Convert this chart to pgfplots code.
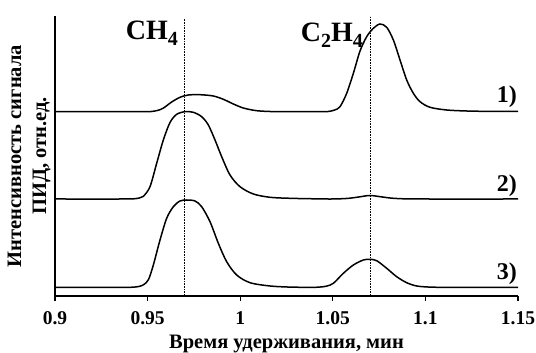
\documentclass[border=0pt]{standalone}
\usepackage{fontspec}
\setmainfont{Liberation Serif}
\usepackage{pgfplots}
\pgfplotsset{compat=1.18}
\newcommand\sub[1]{\raisebox{-6pt}{\fontsize{20}{20}\selectfont #1}}

\pgfplotstableread{
x y
0.900 184.3
0.940 184.3
0.948 184.3
0.952 184.5
0.9555 185.6
0.9585 187.9
0.963 194.0
0.9675 198.7
0.972 201.0
0.9783 201.3
0.9855 200.0
0.9909 196.7
0.9963 192.0
1.0017 188.0
1.0089 185.3
1.0179 184.4
1.030 184.3
1.042 184.3
1.0475 184.5
1.0510 186.0
1.0539 189.3
1.0575 202.7
1.0611 222.7
1.0647 245.0
1.0683 259.3
1.0719 267.7
1.0755 272.0
1.0791 268.7
1.0827 256.0
1.0863 236.0
1.0899 216.0
1.0935 202.7
1.0971 194.3
1.1025 188.7
1.1115 186.0
1.1223 185.0
1.135 184.6
1.150 184.5
}\curveA

\pgfplotstableread{
x y
0.900 97.0
0.936 97.0
0.942 97.1
0.9455 98.0
0.9477 99.6
0.9513 109.3
0.9549 132.7
0.9585 156.0
0.9621 173.5
0.9657 181.7
0.9702 184.3
0.9747 183.7
0.9792 179.3
0.9828 171.0
0.9864 156.0
0.9900 139.3
0.9945 121.0
0.9999 109.3
1.0071 102.0
1.0161 98.7
1.0269 97.7
1.040 97.2
1.050 97.0
1.058 97.6
1.064 99.0
1.070 100.5
1.076 99.2
1.082 97.8
1.090 97.1
1.100 97.0
1.150 97.0
}\curveB

\pgfplotstableread{
x y
0.900 8.7
0.936 8.7
0.942 8.8
0.9455 9.6
0.9480 11.5
0.9505 16.5
0.9531 31.0
0.9567 56.0
0.9603 77.7
0.9639 89.3
0.9675 95.0
0.9711 96.0
0.9756 95.0
0.9792 89.3
0.9837 74.3
0.9882 52.7
0.9927 34.3
0.9981 21.0
1.0053 13.3
1.0161 10.0
1.0269 8.9
1.036 8.7
1.042 8.8
1.0465 9.8
1.0503 12.7
1.0557 22.7
1.0611 31.0
1.0665 36.0
1.0701 36.7
1.0737 35.3
1.0791 27.7
1.0845 19.3
1.0899 13.3
1.0953 10.0
1.1025 8.9
1.112 8.7
1.150 8.7
}\curveC

\begin{document}
\begin{tikzpicture}
\path[use as bounding box] (-55pt,-57pt) rectangle (481pt,296pt);
\begin{axis}[
  scale only axis,
  width=463pt, height=280pt,
  xmin=0.9, xmax=1.15, ymin=0, ymax=280,
  axis x line*=bottom, axis y line*=left,
  axis line style={-, line width=1.1pt},
  xtick={0.9,0.95,1,1.05,1.1,1.15},
  xticklabels={0.9,0.95,1,1.05,1.1,1.15},
  ytick=\empty,
  xtick align=outside,
  major tick length=5pt,
  every tick/.style={line width=1.1pt, black},
  tick label style={font=\fontsize{19.5}{21}\selectfont\bfseries},
  xticklabel style={yshift=-7pt},
  xlabel={Время удерживания, мин},
  ylabel={Интенсивность сигнала\\ПИД, отн.ед.},
  label style={font=\fontsize{20.5}{25}\selectfont\bfseries},
  ylabel style={align=center, yshift=1pt},
  xlabel style={yshift=-3pt},
  clip=false,
]
\addplot[black, line width=1.5pt, smooth] table {\curveA};
\addplot[black, line width=1.5pt, smooth] table {\curveB};
\addplot[black, line width=1.5pt, smooth] table {\curveC};
\addplot[black, densely dotted, line width=0.6pt] coordinates {(0.97,0) (0.97,278)};
\addplot[black, densely dotted, line width=0.6pt] coordinates {(1.07,0) (1.07,280)};
\node[anchor=base east, inner sep=0pt, font=\fontsize{28}{30}\selectfont\bfseries] at (axis cs:0.9665,256) {CH\sub{4}};
\node[anchor=base east, inner sep=0pt, font=\fontsize{28}{30}\selectfont\bfseries] at (axis cs:1.0663,254) {C\sub{2}H\sub{4}};
\node[anchor=base east, inner sep=0pt, font=\fontsize{24}{26}\selectfont\bfseries] at (axis cs:1.1495,193) {1)};
\node[anchor=base east, inner sep=0pt, font=\fontsize{24}{26}\selectfont\bfseries] at (axis cs:1.1495,104.3) {2)};
\node[anchor=base east, inner sep=0pt, font=\fontsize{24}{26}\selectfont\bfseries] at (axis cs:1.1495,16) {3)};
\end{axis}
\end{tikzpicture}
\end{document}
